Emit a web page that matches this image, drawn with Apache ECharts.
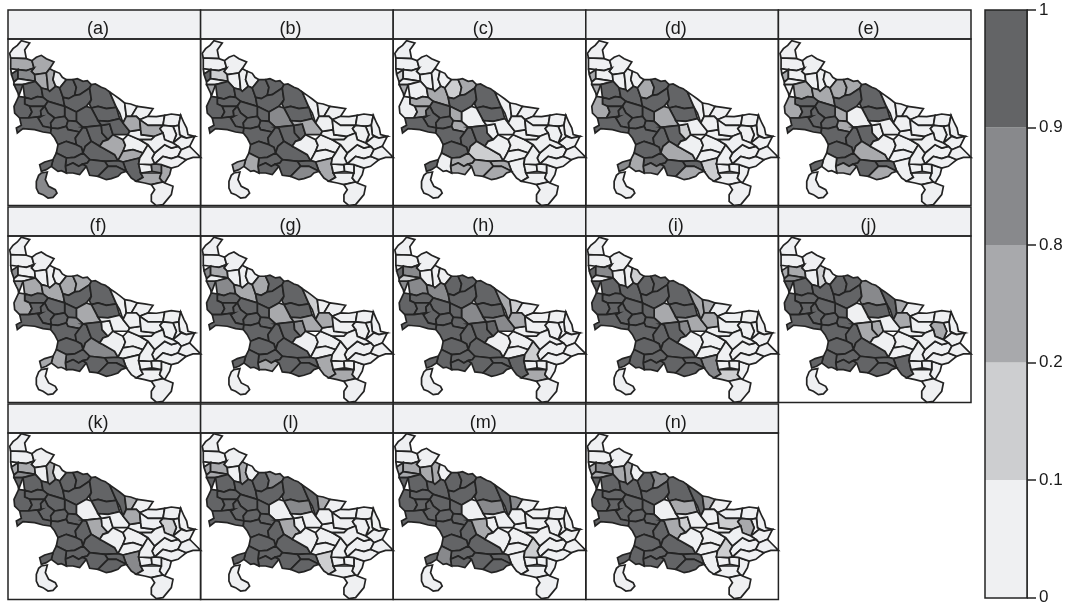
<!DOCTYPE html>
<html><head><meta charset="utf-8">
<style>html,body{margin:0;padding:0;background:#fff}#c{width:1066px;height:606px}</style>
<script src="https://cdn.jsdelivr.net/npm/echarts@6/dist/echarts.min.js"></script>
</head><body><div id="c"></div>
<script>
// Boundaries (map units, y pointing down).
const districtOutlines = {
Sah:[[8,60],[5,46],[15,32],[28,22],[40,8],[65,15],[50,36],[55,62]],
Muz:[[8,60],[55,62],[72,68],[78,90],[30,95],[8,92]],
Bij:[[72,68],[85,58],[100,52],[115,62],[138,72],[125,92],[115,105],[80,110],[78,90]],
Bag:[[8,92],[10,108],[30,95],[30,122],[18,132],[12,115]],
Mee:[[30,95],[78,90],[80,110],[82,130],[30,122]],
Gha:[[18,132],[30,122],[82,130],[45,140],[18,140]],
Mor:[[80,110],[115,105],[118,130],[120,155],[100,150],[82,130]],
Ram:[[115,105],[125,92],[140,100],[143,145],[125,160],[120,155],[118,130]],
JP:[[140,100],[155,106],[163,118],[175,125],[155,150],[143,145]],
GBN:[[18,140],[25,155],[30,165],[32,175],[45,140]],
Bul:[[45,140],[82,130],[100,150],[105,178],[50,178]],
Bud:[[100,150],[120,155],[125,160],[143,145],[155,150],[165,178],[170,205],[120,190],[105,178]],
Bar:[[155,150],[175,125],[195,125],[200,172],[165,178]],
Pili:[[195,125],[208,122],[225,130],[238,128],[250,140],[245,150],[215,170],[200,172]],
Shj:[[165,178],[200,172],[215,170],[245,150],[250,185],[235,205],[205,222],[170,205]],
Khe:[[250,140],[262,138],[280,148],[292,152],[305,162],[325,208],[250,210],[250,185],[245,150]],
Bah:[[305,162],[320,172],[335,183],[350,195],[355,235],[345,255],[335,225],[325,208]],
Shr:[[350,195],[368,198],[388,205],[370,235],[355,235]],
Bal:[[388,205],[410,208],[435,212],[420,235],[395,245],[385,235],[370,235]],
Sid:[[420,235],[445,236],[470,232],[465,262],[420,262],[395,245]],
Mah:[[470,232],[490,228],[518,232],[512,262],[495,265],[465,262]],
Kus:[[518,232],[528,255],[536,270],[540,290],[560,295],[535,300],[515,290],[512,262]],
Deo:[[495,265],[512,262],[515,290],[520,295],[495,315]],
Mau:[[495,315],[520,295],[535,300],[560,295],[545,325],[520,335],[510,325]],
Sit:[[250,210],[325,208],[335,242],[270,248]],
Har:[[205,222],[235,205],[250,210],[270,248],[280,262],[225,268],[205,250]],
Far:[[170,205],[205,222],[205,250],[180,248],[170,235]],
Ali:[[50,178],[105,178],[120,190],[110,205],[65,205],[50,198]],
Mat:[[18,205],[32,175],[50,178],[50,198],[65,205],[62,240],[35,240],[20,225]],
Hat:[[65,205],[110,205],[100,235],[62,240]],
Eta:[[120,190],[170,205],[170,235],[140,240],[120,225],[110,205]],
Mai:[[100,235],[110,205],[120,225],[140,240],[130,270],[105,265],[90,240]],
Agr:[[35,240],[62,240],[100,235],[90,240],[105,265],[130,270],[128,285],[105,282],[80,275],[45,272],[28,285],[25,270],[40,262]],
Kan:[[140,240],[170,235],[180,248],[175,265],[130,270]],
Kpr:[[180,248],[205,250],[225,268],[215,282],[180,275],[175,265]],
Aur:[[130,270],[175,265],[180,275],[215,282],[205,320],[175,310],[150,320],[140,300],[128,285]],
KDe:[[215,282],[225,268],[235,270],[250,310],[225,345],[205,320]],
Unn:[[235,270],[225,268],[280,262],[300,305],[275,325],[250,310]],
Luc:[[280,262],[305,258],[315,290],[300,305]],
Bbk:[[270,248],[335,242],[345,255],[365,280],[360,290],[315,290],[305,258],[280,262]],
Fat:[[225,345],[250,310],[275,325],[285,330],[320,350],[330,368],[290,370],[245,365]],
Rae:[[285,330],[275,325],[300,305],[315,290],[345,305],[345,340],[330,368],[320,350]],
Sul:[[345,305],[360,290],[395,305],[420,320],[405,345],[345,340]],
Pra:[[345,340],[405,345],[395,360],[345,372],[330,368]],
All:[[345,372],[395,360],[392,378],[398,405],[385,430],[370,420],[355,400]],
Kau:[[290,370],[330,368],[345,372],[355,400],[325,385],[300,385]],
Jal:[[145,345],[150,320],[175,310],[205,320],[225,345],[175,360]],
Ham:[[175,360],[225,345],[245,365],[225,378],[172,385]],
Mhb:[[172,385],[225,378],[235,385],[215,410],[195,405],[175,405]],
Ban:[[245,365],[290,370],[300,385],[290,395],[270,415],[245,412],[235,385],[225,378]],
Chi:[[300,385],[325,385],[355,400],[340,405],[330,415],[310,422],[295,425],[270,415],[290,395]],
Mir:[[398,405],[460,405],[465,432],[430,440],[410,435],[385,430]],
Jha:[[135,365],[145,345],[175,360],[172,385],[175,405],[160,398],[150,400],[130,385]],
Nec:[[95,380],[110,372],[135,365],[130,385],[115,395],[100,400]],
Lal:[[100,405],[118,402],[112,425],[122,445],[142,455],[147,465],[135,478],[120,480],[105,470],[92,465],[85,450],[85,430],[92,412]],
Cha:[[460,380],[490,390],[485,410],[470,435],[465,432],[460,405]],
Bha:[[392,378],[430,380],[432,400],[398,405]],
Son:[[430,440],[465,432],[470,435],[495,445],[490,470],[480,482],[465,500],[445,503],[430,490],[430,470],[440,455]],
Aza:[[440,345],[470,320],[510,325],[520,335],[510,355],[465,355],[440,378]],
Jau:[[395,360],[405,345],[420,320],[440,345],[440,378],[430,380],[392,378]],
Ghz:[[440,378],[465,355],[510,355],[535,365],[510,385],[490,390],[460,380]],
Var:[[430,380],[440,378],[460,380],[460,405],[432,400]],
Bli:[[520,335],[545,325],[550,330],[565,345],[578,358],[555,358],[535,365],[510,355]],
Amb:[[365,280],[398,275],[400,290],[440,295],[430,305],[395,305],[360,290]],
Gon:[[345,255],[355,235],[370,235],[385,235],[395,245],[398,275],[365,280]],
Bas:[[395,245],[420,262],[465,262],[465,285],[440,295],[400,290],[398,275]],
SKN:[[465,262],[495,265],[495,315],[470,305],[465,285]],
AzN:[[395,305],[430,305],[440,295],[465,285],[470,305],[495,315],[510,325],[470,320],[440,345],[420,320]]
};
// Extra traced bends on borders shared by two districts.
const sharedBends = {
'250,210|325,208':[[270,205],[295,212]],'270,248|335,242':[[300,250]],'250,185|250,210':[[244,198]],
'165,178|200,172':[[182,182]],'50,178|105,178':[[70,183],[88,176]],'65,205|62,240':[[72,222]],
'110,205|100,235':[[98,218]],'345,305|345,340':[[352,322]],'345,340|405,345':[[375,335]],
'465,262|465,285':[[456,272]],'495,265|495,315':[[505,290]],'465,355|510,355':[[490,362]],
'510,325|470,320':[[490,330]],'440,345|440,378':[[432,360]],'398,405|385,430':[[405,418]],
'460,405|465,432':[[455,420]],'175,360|225,345':[[200,358]],'172,385|225,378':[[195,375],[212,385]],
'245,365|225,378':[[238,375]],'250,310|225,345':[[232,325]],'205,320|225,345':[[220,328]],
'215,282|205,320':[[202,300]],'300,305|275,325':[[285,310]],'280,262|300,305':[[282,285]],
'130,270|175,265':[[150,272]],'140,240|130,270':[[128,255]],'30,95|78,90':[[55,98]],
'78,90|80,110':[[70,100]],'143,145|140,100':[[135,125]],'200,172|195,125':[[205,148]]
};
const districtNames = Object.keys(districtOutlines);

const panelLabels = ['(a)','(b)','(c)','(d)','(e)','(f)','(g)','(h)','(i)','(j)','(k)','(l)','(m)','(n)'];
const colorBreaks = ['0','0.1','0.2','0.8','0.9','1'];
const binColors = ['#eff0f2','#cdced0','#a8a9ac','#88898c','#636466'];

// Bin of each district (0..4 = 0-0.1, 0.1-0.2, 0.2-0.8, 0.8-0.9, 0.9-1), same order as districtNames.
const panelA=[0,2,2,4,3,0,2,2,0,4, 4,4,4,4,4,4,0,0,0,0, 0,0,0,0,4,4,4,4,4,4, 4,4,4,4,4,4,4,4,4,4, 4,2,0,2,4,4,4,4,4,4, 4,2,4,4,3,2,0,0,0,0, 0,3,0,0,2,2,0,0];
const panelB=[0,0,0,4,1,0,0,0,0,2, 4,4,4,4,4,4,0,0,0,0, 0,0,0,0,4,3,4,4,4,4, 4,4,4,4,4,4,4,4,4,2, 4,0,0,0,2,4,4,4,4,4, 3,0,2,2,0,0,0,0,0,0, 0,0,0,0,0,0,0,0];
const panelC=[0,0,0,1,0,0,0,0,0,2, 0,2,1,2,4,4,0,0,0,0, 0,0,0,0,4,0,2,2,0,2, 4,4,4,4,2,4,4,4,0,0, 1,0,0,0,0,2,4,2,2,2, 2,0,0,4,0,0,0,0,0,0, 0,0,0,0,0,0,0,0];
const panelD=[0,0,0,2,0,0,0,0,0,2, 4,4,2,4,4,4,0,0,0,0, 0,0,0,0,4,2,4,4,2,4, 4,4,4,4,4,4,4,4,1,0, 2,0,0,0,1,4,4,4,3,4, 2,0,2,3,0,0,0,0,0,0, 0,0,0,0,0,0,0,0];
const panelE=[0,0,0,2,0,0,0,0,0,0, 2,2,2,2,4,4,0,0,0,0, 0,0,0,0,4,0,2,4,2,4, 4,4,4,4,2,4,4,4,0,0, 2,0,0,0,0,4,4,4,2,4, 2,0,0,4,0,0,0,0,0,0, 0,0,0,0,0,0,0,0];
const panelF=[0,0,0,3,0,0,0,0,0,2, 2,2,2,2,4,4,0,0,0,0, 0,0,0,0,4,2,4,4,2,4, 4,4,4,4,3,4,4,4,0,0, 3,0,0,0,0,4,4,4,4,4, 4,0,2,2,0,0,0,0,0,0, 0,0,0,0,0,0,0,0];
const panelG=[0,0,0,3,2,0,0,0,0,3, 3,2,2,4,4,4,1,0,0,0, 0,0,0,0,4,2,4,4,4,4, 4,4,4,4,4,4,4,4,3,2, 4,0,0,0,2,4,4,4,2,4, 4,2,4,4,0,0,0,0,0,0, 0,0,0,0,2,0,0,0];
const panelH=[0,0,0,4,3,1,0,0,0,3, 3,3,4,4,4,4,2,1,0,0, 0,0,0,0,4,3,4,4,4,4, 4,4,4,4,4,4,4,4,4,3, 4,0,0,0,4,4,4,4,4,4, 4,2,4,4,0,0,0,0,0,1, 0,0,0,0,2,0,0,0];
const panelI=[0,0,0,4,3,0,0,0,1,4, 4,4,4,4,4,4,2,2,0,0, 0,0,0,0,4,2,4,4,4,4, 4,4,4,4,4,4,4,4,3,2, 4,0,0,0,3,4,4,4,4,4, 4,1,4,4,0,0,0,0,0,0, 0,0,0,0,2,0,0,0];
const panelJ=[0,0,0,2,2,3,0,1,0,4, 4,4,4,4,4,3,4,2,0,0, 0,0,0,0,4,0,4,4,4,4, 4,4,4,4,4,4,4,2,2,0, 4,0,0,0,4,4,4,4,4,4, 4,0,4,4,0,0,0,0,0,0, 0,0,0,0,2,0,2,0];
const panelK=[0,0,0,2,2,3,0,2,0,4, 4,4,4,4,4,4,4,2,0,0, 0,0,0,0,4,0,4,4,4,4, 4,4,4,4,4,4,4,2,0,0, 4,0,0,0,3,4,4,4,4,4, 4,0,4,4,0,0,0,0,0,0, 0,0,0,0,2,0,1,0];
const panelL=[0,0,0,2,2,2,0,2,0,4, 4,4,4,3,4,4,4,2,0,0, 0,0,0,0,3,0,4,4,4,4, 4,4,4,4,4,4,4,2,0,0, 4,0,0,0,1,4,4,4,4,4, 4,0,4,4,0,0,0,0,0,0, 0,0,0,0,0,0,0,0];
const panelM=[0,0,0,2,2,2,2,2,0,4, 4,4,4,4,4,4,4,3,0,0, 0,0,0,0,3,0,4,4,4,4, 4,4,4,4,4,4,4,2,0,0, 4,0,0,0,0,4,4,4,4,4, 4,0,3,4,0,0,0,0,0,1, 0,0,0,0,0,0,0,0];
const panelN=[0,0,0,2,3,2,2,2,0,4, 4,4,4,3,4,4,4,2,0,0, 0,0,0,0,2,0,4,4,4,4, 4,4,4,4,4,4,4,2,1,0, 4,0,0,0,0,4,4,4,4,4, 4,0,4,4,0,0,0,0,0,1, 0,0,0,0,0,1,2,0];
const panels=[panelA,panelB,panelC,panelD,panelE,panelF,panelG,panelH,panelI,panelJ,panelK,panelL,panelM,panelN];

function ringOf(name){
  const src=districtOutlines[name],out=[];
  src.forEach((p,i)=>{
    const q=src[(i+1)%src.length];out.push(p);
    const f=sharedBends[p+'|'+q];const b=sharedBends[q+'|'+p];
    if(f)out.push(...f);else if(b)out.push(...b.slice().reverse());
  });
  out.push(src[0]);
  return out.map(p=>[p[0],-p[1]]);
}
echarts.registerMap('state',{type:'FeatureCollection',features:districtNames.map(n=>({
  type:'Feature',properties:{name:n},geometry:{type:'Polygon',coordinates:[ringOf(n)]}
}))});

const FONT='"Liberation Sans",Arial,sans-serif', INK='#232323';
const colX=c=>8+192.6*c;
const rowTop=[38,234.6,431];
const rowStrip=[10,207,404];
const gl=[],sr=[],gr=[];
panelLabels.forEach((lab,i)=>{
  const c=i%5,r=Math.floor(i/5),x=colX(c);
  gl.push({map:'state',silent:true,roam:false,aspectScale:1,
    left:x,top:rowTop[r],width:195,height:170,
    boundingCoords:[[0,0],[585,-510]],
    itemStyle:{areaColor:'#fff',borderColor:INK,borderWidth:1.7},
    label:{show:false},emphasis:{disabled:true},select:{disabled:true}});
  sr.push({type:'map',geoIndex:i,silent:true,
    data:districtNames.map((n,k)=>({name:n,value:panels[i][k]}))});
  const stripTop=rowStrip[r], panelBot=rowStrip[r]+195.5;
  gr.push({type:'rect',z:5,shape:{x:x,y:stripTop,width:192.6,height:29},style:{fill:'#f0f1f3',stroke:INK,lineWidth:1.5}});
  gr.push({type:'rect',z:20,shape:{x:x,y:stripTop+29,width:192.6,height:panelBot-stripTop-29},style:{fill:'none',stroke:INK,lineWidth:1.5}});
  gr.push({type:'text',z:21,style:{x:x+90,y:stripTop+19,text:lab,align:'center',verticalAlign:'middle',font:'18px '+FONT,fill:'#1a1a1a'}});
});
const barSeries=binColors.map(col=>({type:'bar',stack:'bar',barWidth:'100%',silent:true,itemStyle:{color:col},data:[1]}));
const chart=echarts.init(document.getElementById('c'),null,{renderer:'canvas'});
chart.setOption({
  animation:false,backgroundColor:'#fff',
  geo:gl,
  visualMap:{show:false,type:'piecewise',seriesIndex:panels.map((_,i)=>i),dimension:0,
    pieces:binColors.map((col,k)=>({value:k,color:col}))},
  grid:{left:985,width:42,top:10,height:588,show:false},
  xAxis:{type:'category',data:[''],show:false},
  yAxis:{type:'value',min:0,max:5,interval:1,position:'right',
    axisLine:{show:true,lineStyle:{color:INK,width:1.5}},
    axisTick:{show:true,length:9,lineStyle:{color:INK,width:1.5}},
    splitLine:{show:false},
    axisLabel:{fontFamily:FONT,fontSize:17,color:'#1a1a1a',margin:12,formatter:(v)=>colorBreaks[v]}},
  series:sr.concat(barSeries),
  graphic:gr.concat([{type:'rect',z:20,shape:{x:985,y:10,width:42,height:588},style:{fill:'none',stroke:INK,lineWidth:1.5}}])
});
</script></body></html>
